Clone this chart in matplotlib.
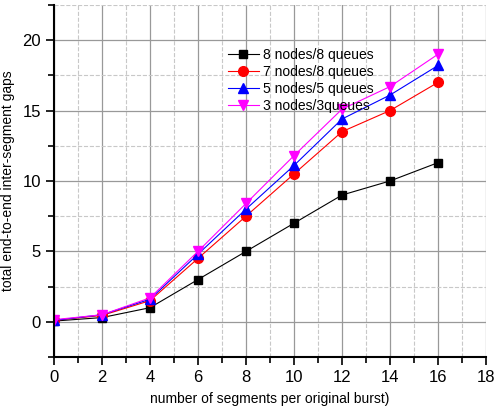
import matplotlib.pyplot as plt
from matplotlib.ticker import MultipleLocator

plt.rcParams['font.family'] = ['Liberation Sans', 'DejaVu Sans']

# ################### Data ############################
segments = [0, 2, 4, 6, 8, 10, 12, 14, 16]
n8_q8 = [0.05, 0.3, 1.0, 3.0, 5.0, 7.0, 9.0, 10.0, 11.3]
n7_q8 = [0.1, 0.45, 1.5, 4.5, 7.5, 10.5, 13.5, 15.0, 17.0]
n5_q5 = [0.1, 0.5, 1.6, 4.8, 8.0, 11.1, 14.4, 16.1, 18.2]
n3_q3 = [0.15, 0.5, 1.7, 5.0, 8.4, 11.8, 15.1, 16.7, 19.0]
labels = ['8 nodes/8 queues', '7 nodes/8 queues', '5 nodes/5 queues', '3 nodes/3queues']

# ################### Plot ############################
fig = plt.figure(figsize=(4.95, 4.08), dpi=100)
ax = fig.add_axes([0.109, 0.125, 0.873, 0.863])

ax.plot(segments, n8_q8, color='black', marker='s', ms=6, lw=0.8, label=labels[0])
ax.plot(segments, n7_q8, color='red', marker='o', ms=7, lw=0.8, label=labels[1])
ax.plot(segments, n5_q5, color='blue', marker='^', ms=7, lw=0.8, label=labels[2])
ax.plot(segments, n3_q3, color='magenta', marker='v', ms=7, lw=0.8, label=labels[3])

ax.set_xlim(0, 18)
ax.set_ylim(-2.5, 22.5)
ax.xaxis.set_major_locator(MultipleLocator(2))
ax.xaxis.set_minor_locator(MultipleLocator(1))
ax.yaxis.set_major_locator(MultipleLocator(5))
ax.yaxis.set_minor_locator(MultipleLocator(2.5))

ax.grid(which='major', color='#999999', lw=0.9, ls='-')
ax.grid(which='minor', color='#c8c8c8', lw=0.8, ls='--')
ax.set_axisbelow(True)

ax.spines['top'].set_visible(False)
ax.spines['right'].set_visible(False)
ax.spines['left'].set_linewidth(1.5)
ax.spines['bottom'].set_linewidth(1.5)
ax.tick_params(which='major', direction='out', length=6, width=1.2, labelsize=12)
ax.tick_params(which='minor', direction='out', length=4, width=1.2)

ax.set_xlabel('number of segments per original burst)', fontsize=10, labelpad=5)
ax.set_ylabel('total end-to-end inter-segment gaps', fontsize=10, labelpad=5)

ax.legend(loc='upper left', bbox_to_anchor=(0.39, 0.893), frameon=False,
          fontsize=10, handlelength=2.2, handletextpad=0.3, labelspacing=0.22,
          borderaxespad=0)

plt.savefig('out.png', dpi=100)
